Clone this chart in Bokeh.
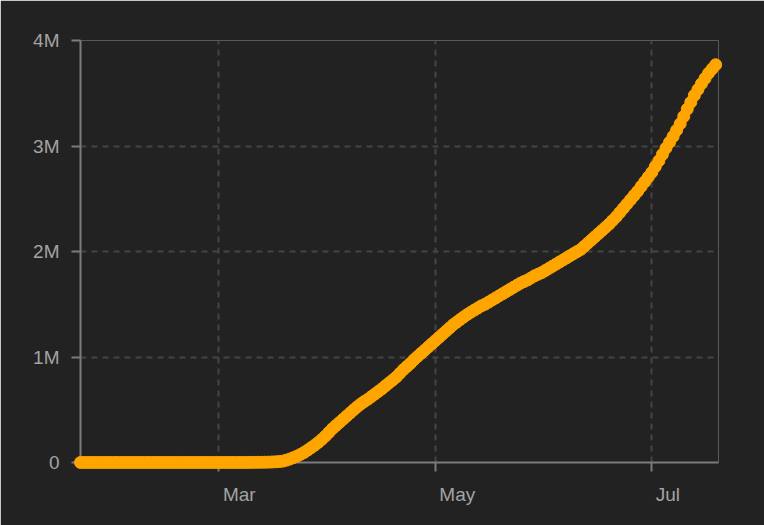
from datetime import datetime, timedelta, timezone

from bokeh.plotting import figure
from bokeh.models import FixedTicker, CustomJSTickFormatter, Range1d
from bokeh.core.properties import value
from bokeh.embed import file_html
from bokeh.resources import INLINE

# ---- data -----------------------------------------------------------------
start_date = "2020-01-22"
cumulative_cases = [
    1, 1, 2, 2, 5, 5, 5, 5, 5, 7,
    8, 8, 11, 11, 11, 11, 11, 11, 11, 11,
    12, 12, 13, 13, 13, 13, 13, 13, 13, 13,
    15, 15, 15, 51, 51, 57, 58, 60, 68,
    74, 98, 118, 149, 217, 262, 402, 518, 583, 959,
    1281, 1663, 2179, 2727, 3499, 4632,
    6400, 9000, 13000, 22000, 33000, 46000, 60000, 77000, 95000, 117000,
    140000, 164000, 190000, 219000, 250000, 285000, 320000, 350000, 380000, 410000,
    440000, 470000, 500000, 528000, 555000, 578000, 600000, 625000, 650000, 675000,
    700000, 728000, 755000, 782000, 810000, 845000, 880000, 910000, 940000, 975000,
    1005000, 1035000, 1065000, 1095000, 1125000, 1155000, 1185000, 1215000, 1245000, 1275000,
    1305000, 1330000, 1355000, 1380000, 1403000, 1425000, 1445000, 1465000, 1485000, 1500000,
    1520000, 1540000, 1560000, 1580000, 1600000, 1620000, 1640000, 1660000, 1680000, 1700000,
    1715000, 1730000, 1750000, 1770000, 1785000, 1800000, 1820000, 1840000, 1860000, 1880000,
    1900000, 1920000, 1940000, 1960000, 1980000, 2000000, 2020000, 2050000, 2080000, 2110000,
    2140000, 2170000, 2200000, 2230000, 2260000, 2295000, 2330000, 2370000, 2410000, 2450000,
    2490000, 2530000, 2570000, 2615000, 2660000, 2705000, 2750000, 2805000, 2860000, 2920000,
    2980000, 3035000, 3090000, 3150000, 3210000, 3280000, 3350000, 3415000, 3480000, 3535000,
    3590000, 3640000, 3690000, 3730000, 3770000,
]
x_tick_dates = ["2020-03-01", "2020-05-01", "2020-07-01"]
x_tick_labels = ["Mar", "May", "Jul"]
y_ticks = [0, 1000000, 2000000, 3000000, 4000000]
y_tick_labels = ["0", "1M", "2M", "3M", "4M"]

# ---- build ----------------------------------------------------------------
def parse(s):
    return datetime.strptime(s, "%Y-%m-%d")

def to_ms(d):
    return d.replace(tzinfo=timezone.utc).timestamp() * 1000.0

d0 = parse(start_date)
dates = [d0 + timedelta(days=i) for i in range(len(cumulative_cases))]
x_tick_ms = [to_ms(parse(s)) for s in x_tick_dates]

BG = "#222222"
AXIS = "#7c7c7c"
GRID = "#444444"
LABEL = "#a3a3a3"
FONT = "Liberation Sans"
FONT_SIZE = "19px"

p = figure(
    width=764, height=525,
    x_axis_type="datetime",
    x_range=Range1d(d0, d0 + timedelta(days=179.8)),
    y_range=Range1d(0, 4000000),
    output_backend="svg", toolbar_location=None,
    background_fill_color=BG, border_fill_color=BG,
    min_border_left=80, min_border_right=46, min_border_top=40, min_border_bottom=63,
)
p.outline_line_color = None

p.scatter(dates, cumulative_cases, size=12, fill_color="#FFA500",
          line_color="#FFA500", line_width=1, level="overlay")

p.xaxis.ticker = FixedTicker(ticks=x_tick_ms)
p.xaxis.formatter = CustomJSTickFormatter(code="return ''")
p.yaxis.ticker = FixedTicker(ticks=y_ticks)
p.yaxis.major_label_overrides = {t: l for t, l in zip(y_ticks, y_tick_labels)}

for ax in (p.xaxis, p.yaxis):
    ax.axis_line_color = AXIS
    ax.axis_line_width = 2
    ax.major_tick_line_color = AXIS
    ax.major_tick_line_width = 2
    ax.major_tick_out = 9
    ax.major_tick_in = 0
    ax.minor_tick_line_color = None
    ax.major_label_text_color = LABEL
    ax.major_label_text_font = FONT
    ax.major_label_text_font_size = FONT_SIZE
    ax.major_label_standoff = 12

# month labels, left-aligned just right of their ticks, below the zero line
p.text(x=x_tick_ms, y=[y_ticks[0]] * len(x_tick_ms), text=x_tick_labels,
       x_offset=4, y_offset=32, text_align="left", text_baseline="alphabetic",
       text_color=LABEL, text_font=value(FONT), text_font_size=FONT_SIZE,
       level="overlay")

for g in (p.xgrid, p.ygrid):
    g.grid_line_color = GRID
    g.grid_line_width = 2
    g.grid_line_dash = "6 5"

open("out.html", "w").write(file_html(p, INLINE))
